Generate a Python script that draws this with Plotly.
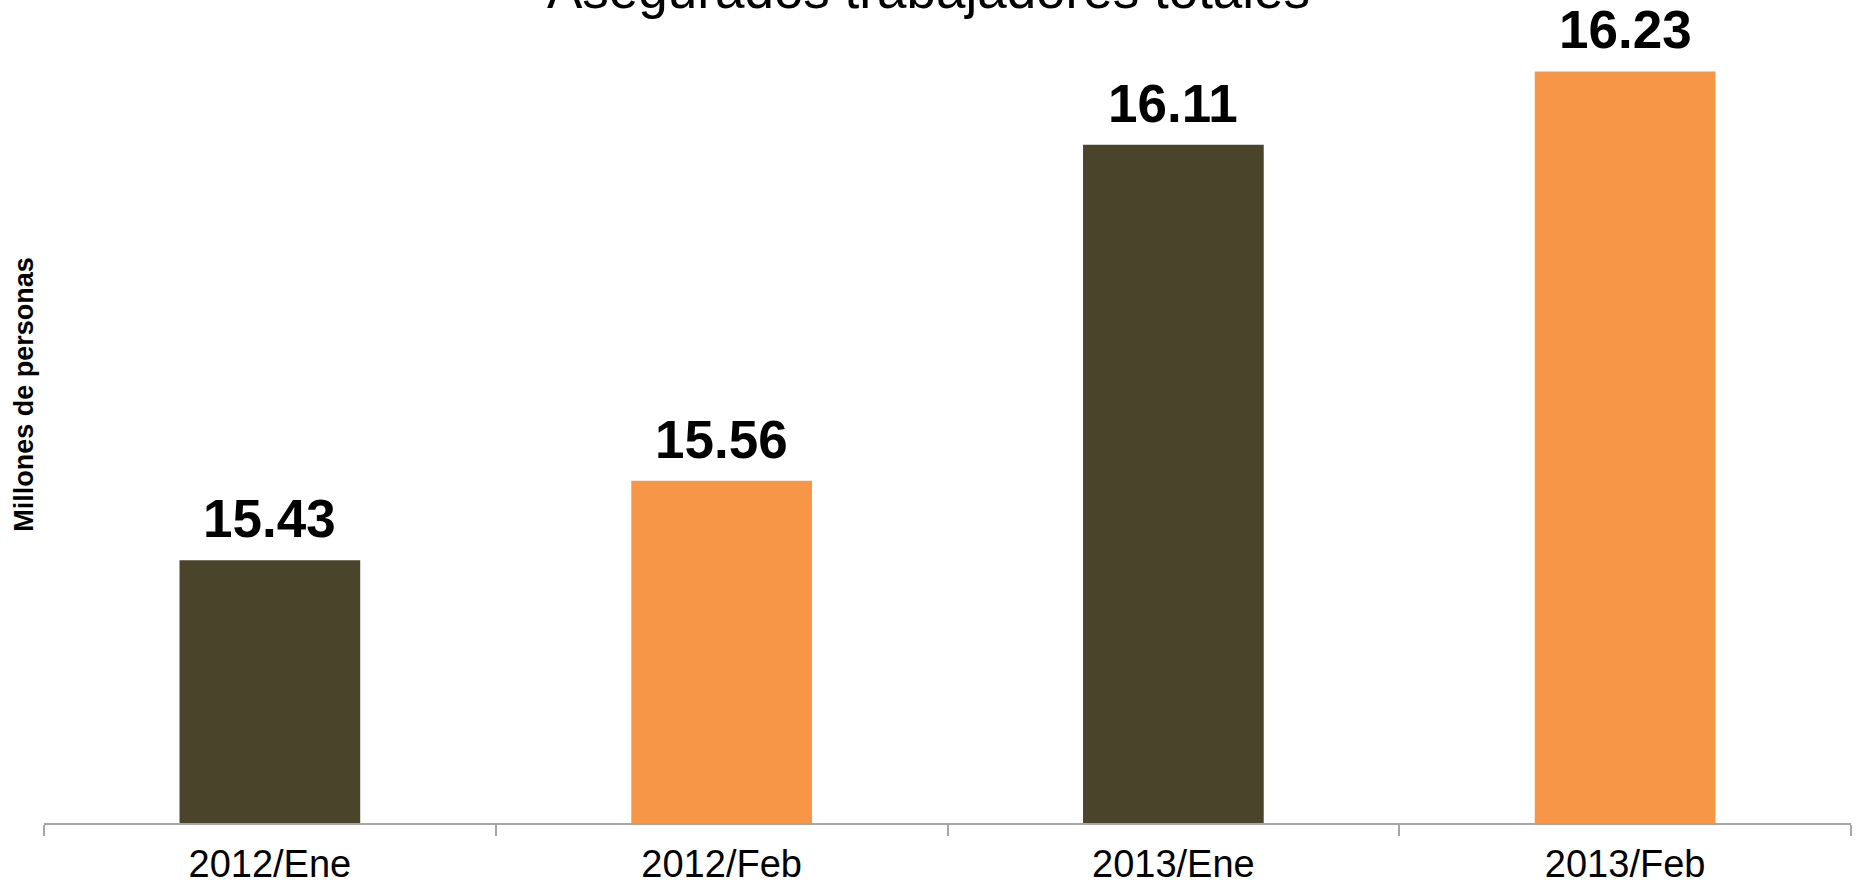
import plotly.graph_objects as go

categories = ["2012/Ene", "2012/Feb", "2013/Ene", "2013/Feb"]
values = [15.43, 15.56, 16.11, 16.23]
bar_colors = ["#4A452A", "#F79646", "#4A452A", "#F79646"]
labels = ["15.43", "15.56", "16.11", "16.23"]
title_text = "Asegurados trabajadores totales"
y_title = "Millones de personas"

W, H = 1857, 884
m_l, m_r, m_t, m_b = 44, 6, 0, 61
plot_h = H - m_t - m_b
FONT = "Liberation Sans, Arial"

fig = go.Figure()
fig.add_trace(go.Bar(
    x=categories, y=values, marker=dict(color=bar_colors, line=dict(width=0)),
    width=0.4, hoverinfo="skip",
))

annotations = []
for c, v, t in zip(categories, values, labels):
    annotations.append(dict(
        x=c, y=v, xref="x", yref="y", text="<b>" + t + "</b>", showarrow=False,
        yanchor="bottom", yshift=10,
        font=dict(family=FONT, size=53, color="#000000"),
    ))
annotations.append(dict(
    x=-0.0112, y=1 - 394 / plot_h, xref="paper", yref="paper",
    text="<b>" + y_title + "</b>", showarrow=False, textangle=-90,
    xanchor="center", yanchor="middle",
    font=dict(family=FONT, size=27, color="#000000"),
))
annotations.append(dict(
    x=(W / 2 - m_l) / (W - m_l - m_r), y=1, xref="paper", yref="paper",
    text=title_text, showarrow=False, xanchor="center", yanchor="bottom",
    yshift=-21,
    font=dict(family=FONT, size=53, color="#000000"),
))

fig.update_layout(
    width=W, height=H,
    margin=dict(l=m_l, r=m_r, t=m_t, b=m_b, pad=0),
    paper_bgcolor="#FFFFFF", plot_bgcolor="#FFFFFF",
    showlegend=False, bargap=0.6,
    annotations=annotations,
    xaxis=dict(
        type="category", showline=True, linecolor="#A6A6A6", linewidth=2,
        ticks="outside", tickson="boundaries", ticklen=11, tickwidth=2,
        tickcolor="#A6A6A6", showgrid=False, zeroline=False,
        tickfont=dict(family=FONT, size=38, color="#000000"),
        ticklabelstandoff=6,
    ),
    yaxis=dict(
        range=[15, 16.347], showticklabels=False, showgrid=False,
        zeroline=False, showline=False, ticks="",
    ),
)

fig.write_html(
    "out.html",
    config={"displayModeBar": False},
    post_script="document.body.style.margin='0';document.body.style.overflow='hidden';",
)
